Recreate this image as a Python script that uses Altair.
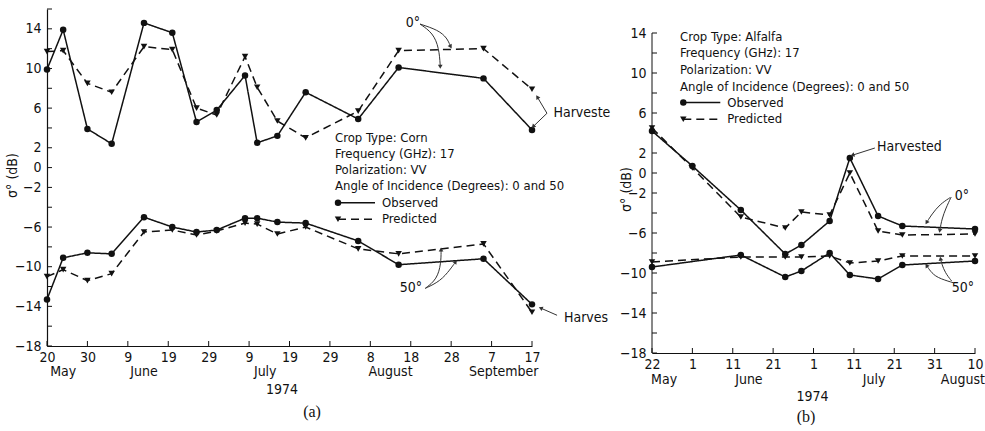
import altair as alt
import pandas as pd

DAY_MS = 86_400_000
FONT = "'Liberation Sans Narrow', 'DejaVu Sans Condensed', 'Arial Narrow', 'Liberation Sans', sans-serif"
SERIF = "'Liberation Serif', 'DejaVu Serif', serif"
INK = "#111111"
ARROW = "#333333"

# ---------------- (a) Corn ----------------
CORN_DATES = ["1974-05-20", "1974-05-24", "1974-05-30", "1974-06-05", "1974-06-13",
              "1974-06-20", "1974-06-26", "1974-07-01", "1974-07-08", "1974-07-11",
              "1974-07-16", "1974-07-23", "1974-08-05", "1974-08-15", "1974-09-05",
              "1974-09-17"]
CORN_OBS_0 = [9.9, 13.9, 3.9, 2.4, 14.6, 13.6, 4.6, 5.8, 9.3, 2.5, 3.2, 7.6, 4.9, 10.1, 9.0, 3.8]
CORN_PRED_0 = [11.7, 11.8, 8.5, 7.6, 12.2, 11.9, 6.0, 5.3, 11.2, 8.1, 4.7, 3.0, 5.7, 11.8, 12.0, 7.9]
CORN_OBS_50 = [-13.3, -9.1, -8.6, -8.7, -5.0, -6.0, -6.5, -6.3, -5.1, -5.1, -5.5, -5.6,
               -7.4, -9.8, -9.2, -13.8]
CORN_PRED_50 = [-11.0, -10.3, -11.4, -10.7, -6.5, -6.3, -6.8, -6.4, -5.6, -5.7, -6.7, -6.0,
                -8.2, -8.7, -7.7, -14.6]
CORN_TICKS = ["1974-05-20", "1974-05-30", "1974-06-09", "1974-06-19", "1974-06-29",
              "1974-07-09", "1974-07-19", "1974-07-29", "1974-08-08", "1974-08-18",
              "1974-08-28", "1974-09-07", "1974-09-17"]
CORN_MONTHS = ["May", "June", "July", "August", "September"]
CORN_MONTH_AT = ["1974-05-24", "1974-06-13", "1974-07-13", "1974-08-13", "1974-09-10"]
CORN_INFO = ["Crop Type:  Corn", "Frequency (GHz):  17", "Polarization:  VV",
             "Angle of Incidence (Degrees):  0 and 50"]

# ---------------- (b) Alfalfa ----------------
ALF_DATES_0 = ["1974-05-22", "1974-06-01", "1974-06-13", "1974-06-24", "1974-06-28",
               "1974-07-05", "1974-07-10", "1974-07-17", "1974-07-23", "1974-08-10"]
ALF_OBS_0 = [4.2, 0.7, -3.7, -8.1, -7.2, -4.8, 1.5, -4.3, -5.3, -5.6]
ALF_PRED_0 = [4.5, 0.5, -4.4, -5.5, -3.9, -4.2, 0.0, -5.8, -6.2, -6.1]
ALF_DATES_50 = ["1974-05-22", "1974-06-13", "1974-06-24", "1974-06-28", "1974-07-05",
                "1974-07-10", "1974-07-17", "1974-07-23", "1974-08-10"]
ALF_OBS_50 = [-9.4, -8.2, -10.4, -9.8, -8.0, -10.2, -10.6, -9.2, -8.8]
ALF_PRED_50 = [-8.9, -8.4, -8.4, -8.4, -8.3, -9.0, -8.8, -8.3, -8.3]
ALF_TICKS = ["1974-05-22", "1974-06-01", "1974-06-11", "1974-06-21", "1974-07-01",
             "1974-07-11", "1974-07-21", "1974-07-31", "1974-08-10"]
ALF_MONTHS = ["May", "June", "July", "August"]
ALF_MONTH_AT = ["1974-05-25", "1974-06-15", "1974-07-16", "1974-08-07"]
ALF_INFO = ["Crop Type:  Alfalfa", "Frequency (GHz):  17", "Polarization:  VV",
            "Angle of Incidence (Degrees):  0 and 50"]

Y_LABELS = [-18, -14, -10, -6, -2, 0, 2, 6, 10, 14]
KINDS = ["Observed", "Predicted"]

# Callout arrows: (days after the first axis date, dB values along the path, head angle)
CORN_ARROWS = [
    ([92.3, 96.8, 99.0, 99.8], [14.48, 13.88, 13.07, 12.26], 150),
    ([92.3, 95.5, 97.0, 97.3], [14.48, 13.58, 12.06, 10.24], 180),
    ([123.7, 121.4], [5.48, 7.06], 328),
    ([123.7, 120.4], [5.48, 4.18], 224),
    ([126.2, 122.3], [-14.9, -14.2], 294),
    ([93.6, 96.5, 97.5, 97.5], [-12.18, -11.27, -9.66, -8.34], 0),
    ([93.6, 97.3, 99.8, 101.0], [-12.18, -11.47, -10.26, -9.56], 35),
]
ALF_ARROWS = [
    ([55.2, 49.8], [2.5, 1.8], 252),
    ([73.8, 71.3, 69.3, 68.1], [-2.47, -3.13, -4.13, -4.9], 211),
    ([74.1, 72.8, 71.8, 71.3], [-2.4, -3.5, -4.6, -5.7], 190),
    ([74.6, 70.5, 68.9, 68.1], [-10.97, -10.47, -9.8, -9.3], 327),
    ([74.2, 72.6, 71.8, 71.5], [-10.8, -9.97, -9.13, -8.63], 349),
]


def ms(dates):
    return [int(pd.Timestamp(d).value // 1_000_000) for d in dates]


def shift(base, days):
    b = pd.Timestamp(base).value // 1_000_000
    return [int(b + d * DAY_MS) for d in days]


def series_frame(d0, obs0, pred0, d50, obs50, pred50):
    rows = []
    for dates, vals, kind, ang in [(d0, obs0, "Observed", "0"), (d0, pred0, "Predicted", "0"),
                                   (d50, obs50, "Observed", "50"), (d50, pred50, "Predicted", "50")]:
        for t, v in zip(ms(dates), vals):
            rows.append({"t": t, "v": v, "kind": kind, "angle": ang})
    return pd.DataFrame(rows)


def arrow_frames(base, arrows):
    path, heads = [], []
    for k, (days, vals, ang) in enumerate(arrows):
        ts = shift(base, days)
        for i, (t, v) in enumerate(zip(ts, vals)):
            path.append({"id": k, "i": i, "t": t, "v": v})
        heads.append({"t": ts[-1], "v": vals[-1], "ang": ang})
    return pd.DataFrame(path), pd.DataFrame(heads)


ONE = pd.DataFrame({"k": [0]})


def text_at(txt, x, y, align="left", size=14, font=FONT, baseline="middle", line_height=None):
    kw = dict(text=txt, align=align, baseline=baseline, font=font, fontSize=size, color=INK)
    if line_height:
        kw["lineHeight"] = line_height
    return alt.Chart(ONE).mark_text(**kw).encode(x=alt.value(x), y=alt.value(y))


def panel(cfg):
    W, H = cfg["width"], cfg["height"]
    xs = alt.Scale(type="utc", domain=ms([cfg["start"], cfg["end"]]), nice=False)
    ys = alt.Scale(domain=[-18, cfg["ytop"]], nice=False, zero=False)
    xaxis = alt.Axis(values=ms(cfg["xticks"]), labelExpr="utcFormat(datum.value, '%-d')",
                     title=None, ticks=False, grid=False, labelPadding=4, labelFlush=False,
                     labelOverlap=False, domain=True)
    yaxis = alt.Axis(values=Y_LABELS, title="σ° (dB)", ticks=False, grid=False, labelPadding=6,
                     labelFlush=False, labelOverlap=False, domain=cfg["ydomain"],
                     titleX=cfg["title_xy"][0], titleY=cfg["title_xy"][1], titleAngle=270,
                     titleAlign="center", titleBaseline="middle")
    X = alt.X("t:T", scale=xs, axis=xaxis)
    Y = alt.Y("v:Q", scale=ys, axis=yaxis)
    data = cfg["data"]

    dash = alt.StrokeDash("kind:N", scale=alt.Scale(domain=KINDS, range=[[1, 0], [8, 5]]), legend=None)
    shape = alt.Shape("kind:N", scale=alt.Scale(domain=KINDS, range=["circle", "triangle-down"]),
                      legend=None)
    lines = alt.Chart(data).mark_line(color=INK, strokeWidth=1.5).encode(
        x=X, y=Y, strokeDash=dash, detail="angle:N")
    pts = alt.Chart(data).mark_point(filled=True, color=INK, opacity=1, size=42).encode(
        x=X, y=Y, shape=shape)

    xt = alt.Chart(pd.DataFrame({"t": ms(cfg["xticks"])})).mark_rule(color=INK).encode(
        x=X, y=alt.value(H), y2=alt.value(H - 5))
    yt = alt.Chart(pd.DataFrame({"v": list(range(-18, int(cfg["ytick_top"]) + 1, 2))})).mark_rule(
        color=INK).encode(y=Y, x=alt.value(0), x2=alt.value(5))

    layers = [lines, pts, xt, yt]
    if not cfg["ydomain"]:
        layers.append(alt.Chart(pd.DataFrame({"v": [-18], "v2": [cfg["ytick_top"]]})).mark_rule(
            color=INK).encode(y=Y, y2="v2:Q", x=alt.value(0)))

    months = pd.DataFrame({"t": ms(cfg["month_at"]), "m": cfg["months"]})
    layers.append(alt.Chart(months).mark_text(font=FONT, fontSize=14, color=INK, baseline="middle")
                  .encode(x=X, y=alt.value(cfg["month_y"]), text="m:N"))

    # information block and key
    ix, iy = cfg["info_xy"]
    layers.append(text_at(cfg["info"], ix, iy, size=13, baseline="alphabetic",
                          line_height=cfg["info_lh"]))
    mx, ky = cfg["key_xy"]
    for k, (kind, shp, sd) in enumerate([("Observed", "circle", [1, 0]),
                                         ("Predicted", "triangle-down", [8, 5])]):
        yy = ky + k * cfg["key_dy"]
        layers.append(alt.Chart(ONE).mark_rule(color=INK, strokeWidth=1.5, strokeDash=sd).encode(
            x=alt.value(mx), x2=alt.value(mx + 37), y=alt.value(yy)))
        layers.append(alt.Chart(ONE).mark_point(shape=shp, filled=True, color=INK, opacity=1,
                                                size=42).encode(x=alt.value(mx), y=alt.value(yy)))
        layers.append(text_at(kind, mx + 44, yy, size=13))

    # callouts
    for txt, x, y, align in cfg["labels"]:
        layers.append(text_at(txt, x, y, align=align))
    path, heads = arrow_frames(cfg["start"], cfg["arrows"])
    layers.append(alt.Chart(path).mark_line(interpolate="basis", color=ARROW, strokeWidth=1).encode(
        x=X, y=Y, detail="id:N", order="i:Q"))
    layers.append(alt.Chart(heads).mark_point(shape="triangle", filled=True, color=ARROW,
                                              opacity=1, size=22).encode(
        x=X, y=Y, angle=alt.Angle("ang:Q", scale=None)))

    yx, yy = cfg["year_xy"]
    layers.append(text_at("1974", yx, yy, align="center"))
    tx, ty = cfg["tag_xy"]
    layers.append(text_at(cfg["tag"], tx, ty, align="center", size=16, font=SERIF))

    return alt.layer(*layers).properties(width=W, height=H)


corn = panel(dict(
    data=series_frame(CORN_DATES, CORN_OBS_0, CORN_PRED_0, CORN_DATES, CORN_OBS_50, CORN_PRED_50),
    start="1974-05-20", end="1974-09-17", width=485, height=337, ytop=16, ytick_top=16,
    ydomain=True, xticks=CORN_TICKS, months=CORN_MONTHS, month_at=CORN_MONTH_AT, month_y=363,
    title_xy=(-34.5, 166), info=CORN_INFO, info_xy=(288, 133.2), info_lh=16.1,
    key_xy=(291, 193.7), key_dy=16.6,
    labels=[("0°", 366, 13.5, "center"), ("Harveste", 506.5, 104, "left"),
            ("Harves", 517, 309, "left"), ("50°", 364, 279, "center")],
    arrows=CORN_ARROWS, year_xy=(235, 381), tag="(a)", tag_xy=(265, 403),
))

alfalfa = panel(dict(
    data=series_frame(ALF_DATES_0, ALF_OBS_0, ALF_PRED_0, ALF_DATES_50, ALF_OBS_50, ALF_PRED_50),
    start="1974-05-22", end="1974-08-10", width=323, height=344, ytop=16.4, ytick_top=14,
    ydomain=False, xticks=ALF_TICKS, months=ALF_MONTHS, month_at=ALF_MONTH_AT, month_y=371,
    title_xy=(-26, 180), info=ALF_INFO, info_xy=(28, 31.5), info_lh=16.8,
    key_xy=(31.3, 93.5), key_dy=16.7,
    labels=[("Harvested", 225, 138, "left"), ("0°", 310, 187, "center"),
            ("50°", 311, 278.7, "center")],
    arrows=ALF_ARROWS, year_xy=(160.5, 388), tag="(b)", tag_xy=(154, 408),
))

chart = alt.hconcat(corn, alfalfa, spacing=120, bounds="flush").configure_view(
    stroke=None
).configure_axis(
    labelFont=FONT, labelFontSize=14, labelColor=INK, domainColor=INK, domainWidth=1.2,
    titleFont=FONT, titleFontSize=14, titleFontWeight="normal", titleColor=INK,
).properties(
    padding={"left": 5, "top": 8, "right": 0, "bottom": 0},
    background="white",
)

chart.save("out.html", embed_options={"renderer": "svg", "actions": False})
